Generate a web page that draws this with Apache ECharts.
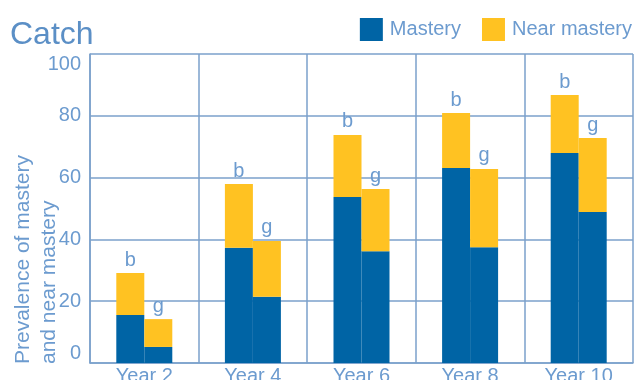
<!DOCTYPE html>
<html>
<head>
<meta charset="utf-8">
<script src="https://cdn.jsdelivr.net/npm/echarts@6/dist/echarts.min.js"></script>
<style>
html, body { margin: 0; padding: 0; background: #fff; }
#main { width: 641px; height: 380px; }
</style>
</head>
<body>
<div id="main"></div>
<script>
var years = ['Year 2', 'Year 4', 'Year 6', 'Year 8', 'Year 10'];
var boysMastery = [15.5, 37.3, 53.7, 63.1, 68.0];
var boysNear = [13.6, 20.6, 20.1, 17.8, 18.7];
var girlsMastery = [5.2, 21.4, 36.2, 37.5, 48.9];
var girlsNear = [9.0, 18.1, 20.1, 25.3, 23.9];

var blue = '#0064a5';
var yellow = '#ffc222';
var txt = '#6c9bcf';
var line = '#7ba1cb';
var font = 'Liberation Sans';

function bar(name, stack, data, color, tag) {
	var s = {
		name: name,
		type: 'bar',
		stack: stack,
		data: data,
		barWidth: 28,
		barGap: '0%',
		itemStyle: { color: color },
		emphasis: { disabled: true }
	};
	if (tag) {
		s.label = {
			show: true,
			position: 'top',
			distance: 3,
			formatter: tag,
			color: txt,
			fontSize: 20,
			fontFamily: font
		};
	}
	return s;
}

var myChart = echarts.init(document.getElementById('main'));
var option = {
	animation: false,
	title: {
		text: 'Catch',
		left: 5,
		top: 14,
		textStyle: { color: '#5b8fc6', fontSize: 32, fontWeight: 'normal', fontFamily: font }
	},
	legend: {
		data: ['Mastery', 'Near mastery'],
		right: 4,
		top: 13,
		itemWidth: 23,
		itemHeight: 23,
		itemGap: 21,
		icon: 'rect',
		textStyle: { color: txt, fontSize: 20, fontFamily: font, padding: [0, 0, 0, 2] }
	},
	grid: { left: 90, right: 8, top: 54, bottom: 17, outerBoundsMode: 'none' },
	xAxis: {
		type: 'category',
		data: years,
		axisTick: { show: false },
		axisLine: { lineStyle: { color: line, width: 1.5 } },
		splitLine: { show: true, lineStyle: { color: line, width: 1.5 } },
		axisLabel: { color: txt, fontSize: 20, fontFamily: font, margin: 3 }
	},
	yAxis: {
		type: 'value',
		min: 0,
		max: 100,
		interval: 20,
		axisLine: { show: true, lineStyle: { color: line, width: 1.5 } },
		axisTick: { show: false },
		splitLine: { lineStyle: { color: line, width: 1.5 } },
		axisLabel: {
			color: txt, fontSize: 20, fontFamily: font, margin: 9,
			verticalAlignMinLabel: 'bottom',
			verticalAlignMaxLabel: 'top'
		}
	},
	graphic: [{
		type: 'text',
		x: 10,
		y: 364,
		rotation: Math.PI / 2,
		style: {
			text: 'Prevalence of mastery\nand near mastery',
			fill: txt,
			fontSize: 21,
			fontFamily: font,
			lineHeight: 26,
			align: 'left',
			verticalAlign: 'top'
		}
	}],
	series: [
		bar('Mastery', 'b', boysMastery, blue),
		bar('Near mastery', 'b', boysNear, yellow, 'b'),
		bar('Mastery', 'g', girlsMastery, blue),
		bar('Near mastery', 'g', girlsNear, yellow, 'g')
	]
};
myChart.setOption(option);
</script>
</body>
</html>
